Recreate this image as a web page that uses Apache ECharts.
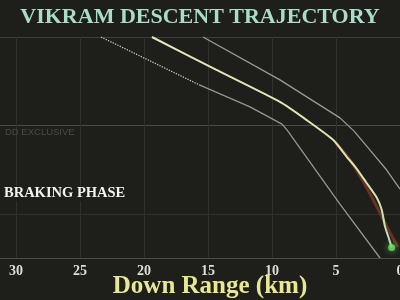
<!DOCTYPE html>
<html>
<head>
<meta charset="utf-8">
<script src="https://cdn.jsdelivr.net/npm/echarts@6/dist/echarts.min.js"></script>
<style>
html,body{margin:0;padding:0;background:#1e1f1b;}
#c{width:400px;height:300px;}
</style>
</head>
<body>
<div id="c"></div>
<script>
// Down range (km) and altitude (relative units)
const mainRange = [19.38, 14.38, 9.38, 7.29, 5.21, 4.16, 3.44, 2.66, 1.80, 1.43, 1.17, 0.91, 0.65];
const mainAlt   = [5.00, 4.26, 3.53, 3.12, 2.67, 2.29, 2.04, 1.72, 1.36, 1.09, 0.71, 0.48, 0.24];

const leftDotRange = [23.36, 15.63];
const leftDotAlt   = [5.00, 3.91];
const leftRange = [15.63, 11.72, 9.22, 8.83, 4.69, 1.56];
const leftAlt   = [3.91, 3.42, 3.03, 2.90, 1.22, 0.00];

const rightRange = [15.39, 9.38, 4.69, 3.59, 2.34, 1.04, 0.00];
const rightAlt   = [5.00, 4.03, 3.17, 2.87, 2.44, 1.99, 1.56];

const redRange = [5.00, 3.91, 2.50, 0.78, 0.16];
const redAlt   = [2.60, 2.22, 1.54, 0.57, 0.25];

const landingRange = [0.65];
const landingAlt   = [0.24];

const xTickStep = 5;
const titleText = 'VIKRAM DESCENT TRAJECTORY';
const xName = 'Down Range (km)';
const phaseText = 'BRAKING PHASE';
const watermark = 'DD EXCLUSIVE';

function pairs(xs, ys){ return xs.map((x,i)=>[x, ys[i]]); }

const chart = echarts.init(document.getElementById('c'), null, {renderer:'canvas'});
const serif = 'Liberation Serif';
chart.setOption({
  backgroundColor: '#1e1f1b',
  animation: false,
  title: {
    text: titleText, left: 'center', top: 1,
    textStyle: {fontFamily: serif, fontWeight: 'bold', fontSize: 22, color: '#aadccc'}
  },
  grid: {left: 0, right: 0, top: 37, bottom: 42, containLabel: false, outerBoundsMode: 'none'},
  xAxis: {
    type: 'value', min: 0, max: 31.25, interval: xTickStep, inverse: true,
    name: xName, nameLocation: 'middle', nameGap: 16, nameMoveOverlap: false,
    nameTextStyle: {fontFamily: serif, fontWeight: 'bold', fontSize: 25, color: '#e8e890',
      padding: [0, 0, 0, 20]},
    axisLine: {show: true, lineStyle: {color: '#4c4c48', width: 1}},
    axisTick: {show: false},
    axisLabel: {show: true, showMaxLabel: false, margin: 6, hideOverlap: false,
      fontFamily: serif, fontWeight: 'bold', fontSize: 14, color: '#deded6'},
    splitLine: {show: true, showMaxLine: false, lineStyle: {color: '#30312c', width: 1}}
  },
  yAxis: {
    type: 'value', min: 0, max: 5, interval: 1,
    axisLine: {show: false}, axisTick: {show: false}, axisLabel: {show: false},
    splitLine: {show: true, lineStyle: {width: 1,
      color: ['rgba(0,0,0,0)', '#30312c', 'rgba(0,0,0,0)', '#4a4a46', 'rgba(0,0,0,0)', '#3e3f3a']}}
  },
  graphic: [
    {type: 'text', left: 5, top: 127, silent: true, z: 100,
      style: {text: watermark, fontFamily: 'Liberation Sans', fontSize: 9.5, fill: '#4a4a47'}},
    {type: 'text', left: 4, top: 186, silent: true, z: 100,
      style: {text: phaseText, fontFamily: serif, fontWeight: 'bold', fontSize: 14.5, fill: '#f2f2ee',
        backgroundColor: '#1e1f1b'}}
  ],
  series: [
    {type: 'line', data: pairs(redRange, redAlt), showSymbol: false, smooth: 0.3,
      lineStyle: {color: 'rgba(130,58,38,0.75)', width: 3}, z: 1},
    {type: 'line', data: pairs(leftDotRange, leftDotAlt), showSymbol: false,
      lineStyle: {color: '#c8c8c0', width: 1.3, type: 'dotted'}, z: 2},
    {type: 'line', data: pairs(leftRange, leftAlt), showSymbol: false,
      lineStyle: {color: '#95958f', width: 1.3}, z: 2},
    {type: 'line', data: pairs(rightRange, rightAlt), showSymbol: false,
      lineStyle: {color: '#9a9a94', width: 1.3}, z: 2},
    {type: 'line', data: pairs(mainRange, mainAlt), showSymbol: false, smooth: 0.2,
      lineStyle: {width: 2, color: new echarts.graphic.LinearGradient(0,0,0,1,[
        {offset: 0, color: '#e4e6b2'}, {offset: 0.6, color: '#dde4b0'}, {offset: 1, color: '#b6e2b4'}])}, z: 3},
    {type: 'scatter', data: pairs(landingRange, landingAlt), symbolSize: 7,
      itemStyle: {color: '#72e06a', shadowBlur: 6, shadowColor: '#5fd05a'}, z: 4}
  ]
});
</script>
</body>
</html>
